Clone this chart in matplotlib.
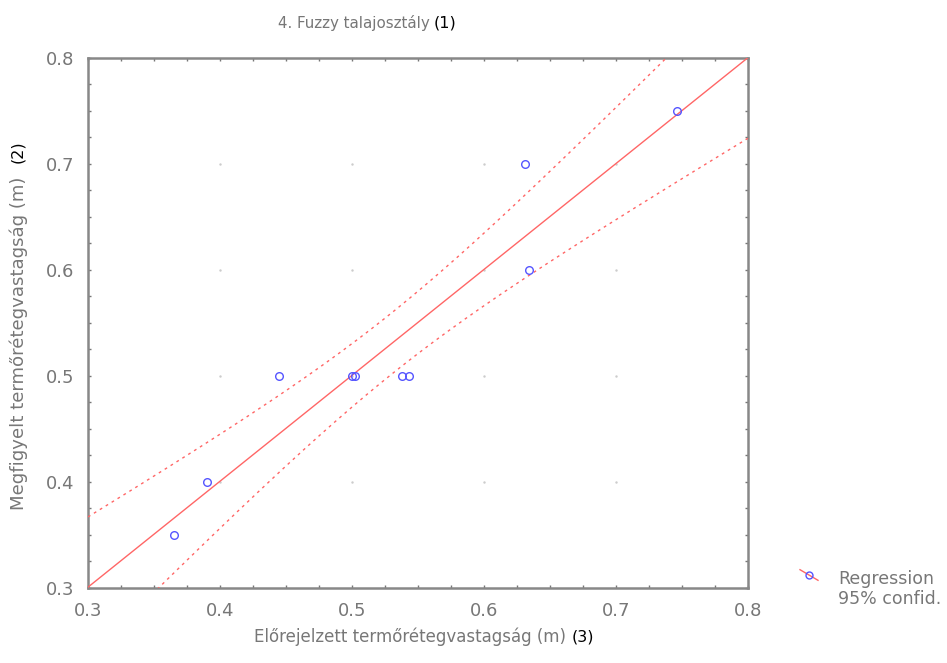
import numpy as np
import matplotlib.pyplot as plt
from matplotlib.ticker import MultipleLocator

plt.rcParams['font.family'] = ['DejaVu Sans']

# predicted vs observed topsoil thickness (m)
predicted = [0.365, 0.39, 0.445, 0.50, 0.502, 0.538, 0.543, 0.631, 0.634, 0.746]
observed = [0.35, 0.40, 0.50, 0.50, 0.50, 0.50, 0.50, 0.70, 0.60, 0.75]
t_crit = 2.306  # t(0.975, df=8)

x = np.array(predicted)
y = np.array(observed)
n = len(x)
slope, intercept = np.polyfit(x, y, 1)
resid = y - (intercept + slope * x)
s = np.sqrt(np.sum(resid ** 2) / (n - 2))
sxx = np.sum((x - x.mean()) ** 2)

xs = np.linspace(0.3, 0.8, 200)
fit = intercept + slope * xs
half = t_crit * s * np.sqrt(1.0 / n + (xs - x.mean()) ** 2 / sxx)

fig = plt.figure(figsize=(9.47, 6.63), dpi=100)
ax = fig.add_axes([88 / 947, 1 - 588 / 663, 660 / 947, 530 / 663])

red = '#ff6666'
ax.plot(xs, fit, color=red, lw=1.0, zorder=3)
ax.plot(xs, fit + half, color=red, lw=1.0, ls=(0, (2, 3)), zorder=3)
ax.plot(xs, fit - half, color=red, lw=1.0, ls=(0, (2, 3)), zorder=3)
ax.plot(x, y, 'o', ms=5.5, mfc='none', mec='#5555ff', mew=1.0, zorder=4)

ax.set_xlim(0.3, 0.8)
ax.set_ylim(0.3, 0.8)
ax.xaxis.set_major_locator(MultipleLocator(0.1))
ax.yaxis.set_major_locator(MultipleLocator(0.1))
ax.xaxis.set_minor_locator(MultipleLocator(0.025))
ax.yaxis.set_minor_locator(MultipleLocator(0.025))
ax.xaxis.set_major_formatter(plt.FormatStrFormatter('%.1f'))
ax.yaxis.set_major_formatter(plt.FormatStrFormatter('%.1f'))
ax.tick_params(which='both', direction='in', top=True, right=True,
               length=2.5, width=1.0, color='#777777',
               labelsize=13, labelcolor='#777777')
ax.tick_params(axis='y', pad=10)
ax.tick_params(axis='x', pad=10)

# faint dots at the grid crossings
gx, gy = np.meshgrid(np.arange(0.4, 0.75, 0.1), np.arange(0.4, 0.75, 0.1))
ax.plot(gx.ravel(), gy.ravel(), '.', ms=1.5, color='#cccccc', zorder=1)

for side in ['left', 'bottom', 'top', 'right']:
    ax.spines[side].set_color('#888888')
    ax.spines[side].set_linewidth(1.8)

gray = '#777777'
fig.text(430 / 947, 1 - 23 / 663, '4. Fuzzy talajosztály', ha='right', va='center',
         fontsize=10.8, color=gray)
fig.text(434 / 947, 1 - 23 / 663, '(1)', ha='left', va='center', fontsize=11.5, color='black')

fig.text(566 / 947, 1 - 637 / 663, 'Előrejelzett termőrétegvastagság (m)', ha='right',
         va='center', fontsize=12, color=gray)
fig.text(572 / 947, 1 - 637 / 663, '(3)', ha='left', va='center', fontsize=11.5, color='black')

fig.text(9 / 947, 1 - 510 / 663, 'Megfigyelt termőrétegvastagság (m)', ha='left',
         va='bottom', rotation=90, fontsize=13.1, color=gray)
fig.text(10 / 947, 1 - 163 / 663, '(2)', ha='left', va='bottom', rotation=90,
         fontsize=11.5, color='black')

# legend
lx0, lx1, ly = 800 / 947, 818 / 947, 1 - 575 / 663
fig.add_artist(plt.Line2D([lx0, lx1], [ly + 0.008, ly - 0.008], color=red, lw=1.0,
                          transform=fig.transFigure))
fig.add_artist(plt.Line2D([(lx0 + lx1) / 2], [ly], marker='o', ms=5, mfc='none',
                          mec='#5555ff', transform=fig.transFigure))
fig.text(838 / 947, 1 - 579 / 663, 'Regression', va='center', fontsize=12.5, color=gray)
fig.text(838 / 947, 1 - 599 / 663, '95% confid.', va='center', fontsize=12.5, color=gray)

fig.savefig('out.png', dpi=100)
